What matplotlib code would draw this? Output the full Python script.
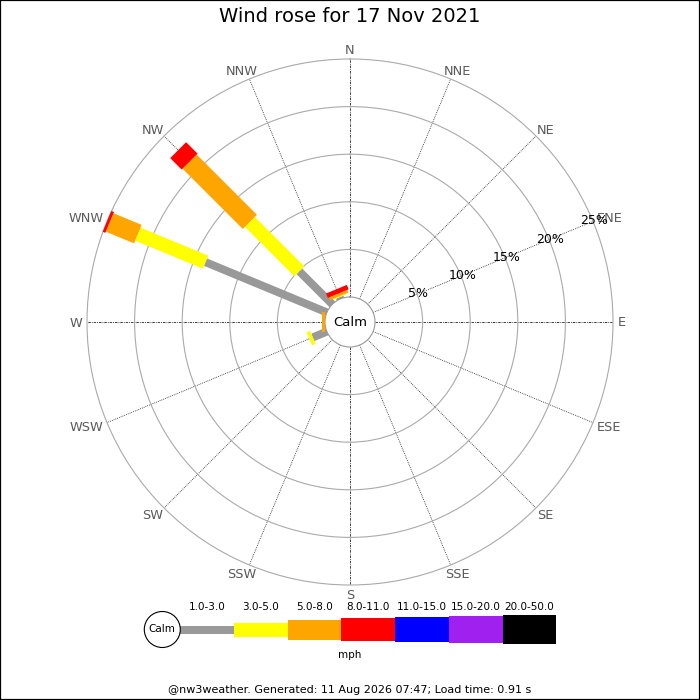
import numpy as np
import matplotlib
matplotlib.use("Agg")
import matplotlib.pyplot as plt
from matplotlib.patches import Circle, Rectangle

# ---------------- data ----------------
directions = ['N', 'NNE', 'NE', 'ENE', 'E', 'ESE', 'SE', 'SSE',
              'S', 'SSW', 'SW', 'WSW', 'W', 'WNW', 'NW', 'NNW']
speed_bins = ['1.0-3.0', '3.0-5.0', '5.0-8.0', '8.0-11.0',
              '11.0-15.0', '15.0-20.0', '20.0-50.0']
speed_unit = 'mph'
# percentage of time per direction, per speed class (order follows `directions`)
pct_1_3   = [0, 0, 0, 0, 0, 0, 0, 0, 0, 0, 0, 1.6, 0.05, 13.8, 4.9, 0.2]
pct_3_5   = [0, 0, 0, 0, 0, 0, 0, 0, 0, 0, 0, 0.4, 0.0, 7.7, 7.35, 0.1]
pct_5_8   = [0, 0, 0, 0, 0, 0, 0, 0, 0, 0, 0, 0.0, 0.25, 3.2, 8.95, 0.3]
pct_8_11  = [0, 0, 0, 0, 0, 0, 0, 0, 0, 0, 0, 0.0, 0.0, 0.3, 1.7, 0.5]
pct_11_15 = [0] * 16
pct_15_20 = [0] * 16
pct_20_50 = [0] * 16
ring_pcts = [5, 10, 15, 20, 25]
title = 'Wind rose for 17 Nov 2021'
footer = '@nw3weather. Generated: 11 Aug 2026 07:47; Load time: 0.91 s'

# ---------------- style ----------------
colors = ['#999999', '#ffff00', '#ffa500', '#ff0000', '#0000ff', '#a020f0', '#000000']
bar_px = [8, 14, 20, 22.5, 24.5, 27, 28.5]
PX2PT = 72 / 100

series = [pct_1_3, pct_3_5, pct_5_8, pct_8_11, pct_11_15, pct_15_20, pct_20_50]

fig = plt.figure(figsize=(7, 7), dpi=100)
fig.patch.set_facecolor('white')

# polar axes: centre (350,322) px, outer radius 263 px, calm radius 25 px
cx, cy, R = 350, 322, 263
ax = fig.add_axes([(cx - R) / 700, (700 - cy - R) / 700, 2 * R / 700, 2 * R / 700],
                  projection='polar')
ax.set_theta_zero_location('N')
ax.set_theta_direction(-1)
rmax = ring_pcts[-1]
calm_px = 25
ax.set_ylim(0, rmax)
rorig = -rmax * calm_px / (R - calm_px)
ax.set_rorigin(rorig)
ax.set_xticks([])
ax.set_yticks(ring_pcts[:-1])
ax.set_yticklabels([])
ax.yaxis.grid(True, color='#aaaaaa', lw=0.8, ls='-')
ax.xaxis.grid(False)
ax.spines['polar'].set_color('#aaaaaa')
ax.spines['polar'].set_linewidth(0.8)
ax.spines['inner'].set_color('#999999')
ax.spines['inner'].set_linewidth(0.8)

angles = np.deg2rad(np.arange(16) * 22.5)

# spokes
for i, th in enumerate(angles):
    if i % 4 == 0:
        ls = (0, (3, 1.2, 1, 1.2))
    else:
        ls = (0, (1, 1.3))
    ax.plot([th, th], [0, rmax], color='#222222', lw=0.6, ls=ls, zorder=1)

# direction labels (anchored just outside the rim, pushed out by half their size)
lab_fs = 9.3
r_lab_px = 268
r_lab = r_lab_px / R * (rmax - rorig) + rorig
dir_texts = []
for th, name in zip(angles, directions):
    t = ax.annotate(name, xy=(th, r_lab), xytext=(0, 0), textcoords='offset pixels',
                    ha='center', va='center', fontsize=lab_fs, color='#5a5a5a',
                    annotation_clip=False)
    dir_texts.append((th, t))

# ring labels along ENE
lab_th = np.deg2rad(67.5)
for p in ring_pcts:
    ax.text(lab_th, p + 0.15, f'{p}%', ha='center', va='center', fontsize=9,
            color='black', zorder=6, clip_on=False)

# stacked bars
cum = np.zeros(16)
for vals, col, w in zip(series, colors, bar_px):
    vals = np.asarray(vals, dtype=float)
    for th, lo, v in zip(angles, cum, vals):
        if v > 0:
            ax.plot([th, th], [lo, lo + v], color=col, lw=w * PX2PT,
                    solid_capstyle='butt', zorder=4, clip_on=False)
    cum = cum + vals

ax.text(0.5, 0.5, 'Calm', transform=ax.transAxes, ha='center', va='center',
        fontsize=9.5, color='black', zorder=7)

# ---------------- overlay (title, legend, footer) ----------------
ov = fig.add_axes([0, 0, 1, 1], zorder=-1)
ov.set_xlim(0, 700)
ov.set_ylim(700, 0)
ov.axis('off')
ov.patch.set_alpha(0)

fig.text(0.5, 1 - 17 / 700, title, ha='center', va='center', fontsize=14)
fig.text(0.5, 1 - 690 / 700, footer, ha='center', va='center', fontsize=8)

# legend
leg_y = 629.5
seg_w = 53.7
x0 = 180.3
calm_r = 18
ov.add_patch(Circle((x0 - calm_r, leg_y), calm_r, facecolor='white',
                    edgecolor='black', lw=0.8, zorder=3))
ov.text(x0 - calm_r, leg_y, 'Calm', ha='center', va='center', fontsize=7.5, zorder=4)
xs = x0 + seg_w * (np.arange(len(speed_bins)) + 0.5)
hs = np.array(bar_px, dtype=float)
ov.bar(xs, hs, width=seg_w, bottom=leg_y - hs / 2, color=colors, linewidth=0, zorder=2)
for x, lab in zip(xs, speed_bins):
    ov.text(x, 607.5, lab, ha='center', va='center', fontsize=7.5)
ov.text(350, 654.5, speed_unit, ha='center', va='center', fontsize=7.5)

# border
fig.patches.append(Rectangle((0, 0), 1, 1, transform=fig.transFigure, fill=False,
                             edgecolor='black', lw=1.6))

# push direction labels outward by half their extent
fig.canvas.draw()
renderer = fig.canvas.get_renderer()
cap_px = 0.73 * lab_fs * 100 / 72
for th, t in dir_texts:
    bb = t.get_window_extent(renderer)
    dx = bb.width / 2 * np.sin(th)
    dy = cap_px / 2 * np.cos(th) - 1
    t.xyann = (dx, dy)

fig.savefig('out.png', dpi=100)
